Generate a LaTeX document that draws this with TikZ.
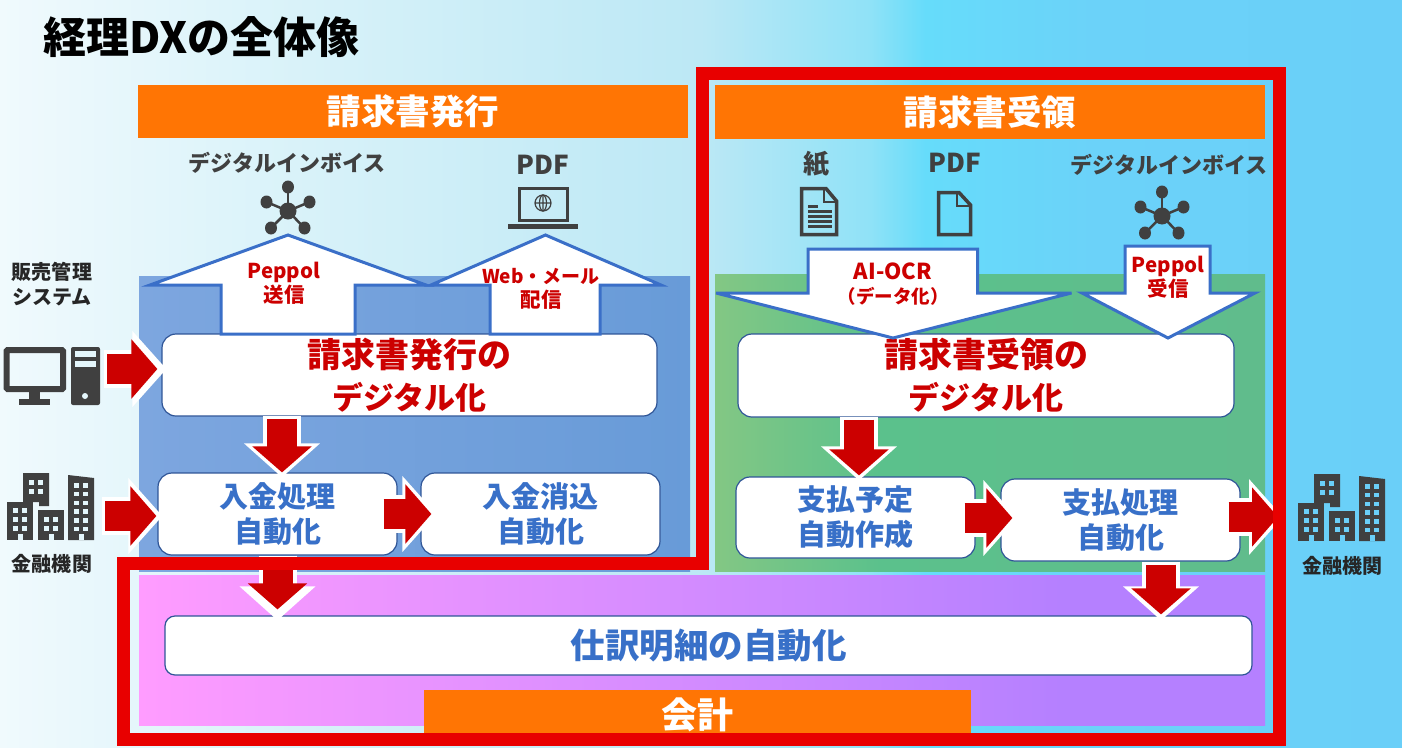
\documentclass[tikz,border=0pt]{standalone}
\usepackage{fontspec}
\usepackage{xcolor}
\setmainfont{Noto Sans CJK JP}
\usetikzlibrary{arrows.meta, calc}
\definecolor{framered}{HTML}{E80000}
\definecolor{arrowred}{HTML}{CC0000}
\definecolor{headorange}{HTML}{FF7504}
\definecolor{boxblue}{HTML}{2F5597}
\definecolor{textblue}{HTML}{3870C8}
\definecolor{linkblue}{HTML}{3A6FC8}
\definecolor{icongray}{HTML}{404040}
\definecolor{bga}{HTML}{F0FAFD}
\definecolor{bgb}{HTML}{DEF4FA}
\definecolor{bgc}{HTML}{BCE8F5}
\definecolor{bgd}{HTML}{90E2F7}
\definecolor{bge}{HTML}{66DCFA}
\definecolor{bgf}{HTML}{6BD2F9}
\definecolor{bgg}{HTML}{6ACFF8}
\definecolor{bluea}{HTML}{7DA6DF}
\definecolor{blueb}{HTML}{689BD8}
\definecolor{greena}{HTML}{83C784}
\definecolor{greenb}{HTML}{5BC18C}
\definecolor{greenc}{HTML}{60BC8C}
\definecolor{pinka}{HTML}{FF9CFF}
\definecolor{pinkb}{HTML}{B580FF}
\definecolor{winleft}{HTML}{E4F6FB}
\pgfdeclarehorizontalshading{pagebg}{100bp}{color(0bp)=(bga); color(25bp)=(bga); color(33bp)=(bgb); color(50bp)=(bgc); color(56bp)=(bgd); color(58bp)=(bge); color(64bp)=(bgf); color(75bp)=(bgg); color(100bp)=(bgg)}
\pgfdeclarehorizontalshading{greenpanel}{100bp}{color(0bp)=(greena); color(25bp)=(greena); color(40bp)=(greenb); color(75bp)=(greenc); color(100bp)=(greenc)}
\pgfdeclarehorizontalshading{pinkpanel}{100bp}{color(0bp)=(pinka); color(25bp)=(pinka); color(66bp)=(pinkb); color(100bp)=(pinkb)}
\newcommand{\fs}[1]{\fontsize{#1}{#1}\selectfont}

\begin{document}
\begin{tikzpicture}[x=1pt, y=-1pt, font=\bfseries,
    headbox/.style={fill=headorange, text=white, inner sep=0pt, font=\bfseries\fontsize{34.5}{40}\selectfont},
    wbox/.style={draw=boxblue, line width=1.2pt, fill=white, rounded corners=14pt, inner sep=0pt, align=center},
    redtext/.style={text=arrowred, font=\bfseries\fontsize{34}{42}\selectfont},
    bluetext/.style={text=textblue, font=\bfseries\fontsize{29}{35}\selectfont},
    hollow/.style={draw=linkblue, line width=3pt, fill=white, miter limit=8},
    incap/.style={text=arrowred, align=center, inner sep=0pt, font=\bfseries\fontsize{20.5}{24}\selectfont},
    iconcap/.style={text=icongray, inner sep=0pt, font=\bfseries\fontsize{22}{28}\selectfont},
    sidecap/.style={text=black!85, align=center, inner sep=0pt, font=\bfseries\fontsize{20}{25}\selectfont},
    blockarrow/.style={draw=arrowred, line width=30pt,
      -{Triangle[length=26pt, width=58pt]},
      preaction={draw=white, line width=38pt, -{Triangle[length=34pt, width=74pt]},
        shorten >=-5pt, shorten <=-3pt}},
    hubicon/.pic={
      \foreach \hx/\hy in {0/-24, -21.5/-9, 21.5/-9, -17/17, 16.5/17} {
        \draw[icongray, line width=2.5pt] (0,0) -- (\hx,\hy);
        \fill[icongray] (\hx,\hy) ellipse (6pt and 6.5pt);
      }
      \fill[icongray] (0,0) circle (8.5pt);
    },
    bankicon/.pic={
      \fill[icongray] (16,0) -- (42,0) -- (42,33) -- (32,33) -- (32,29) -- (16,29) -- cycle;
      \fill[icongray] (0,29) rectangle (26,67);
      \fill[icongray] (31,37) rectangle (57,67);
      \fill[icongray] (61,2) -- (87,5) -- (87,67) -- (61,67) -- cycle;
      \foreach \wx in {22,31} \foreach \wy in {7,16} {\fill[#1] (\wx,\wy) rectangle +(4.5,4.5);}
      \foreach \wx in {6,15} \foreach \wy in {35,44,53} {\fill[#1] (\wx,\wy) rectangle +(4.5,4.5);}
      \foreach \wx in {37,46} \foreach \wy in {44,53} {\fill[#1] (\wx,\wy) rectangle +(4.5,4.5);}
      \foreach \wx in {67,76} \foreach \wy in {10,18.7,27.5,36,45,53.5} {\fill[#1] (\wx,\wy) rectangle +(4.5,4.5);}
      \foreach \wx in {10.5,41.5,71.5} {\fill[#1] (\wx,61) rectangle +(5,6);}
    },
  ]
    \useasboundingbox (0,0) rectangle (1402,747);
    \shade[shading=pagebg] (0,0) rectangle (1402,747);

    % panels
    \shade[left color=bluea, right color=blueb] (139,276) rectangle (690,571);
    \shade[shading=greenpanel] (715,274) rectangle (1265,571);
    \shade[shading=pinkpanel] (139,575) rectangle (1265,725);

    \node[headbox, minimum width=550pt, minimum height=53pt] (issuehead) at (413,111.5) {請求書発行};
    \node[headbox, minimum width=550pt, minimum height=54pt] (recvhead) at (990,112) {請求書受領};

    \node[anchor=west, inner sep=0pt, font=\bfseries\fontsize{43}{46}\selectfont] (title) at (43,37) {経理DXの全体像};

    % icons and captions
    \node[iconcap] (invoiceL) at (287,163) {デジタルインボイス};
    \node[iconcap, font=\bfseries\fs{26}] (pdfL) at (543,165) {PDF};
    \node[iconcap, font=\bfseries\fs{26}] (paperR) at (816,164) {紙};
    \node[iconcap, font=\bfseries\fs{26}] (pdfR) at (955,163) {PDF};
    \node[iconcap] (invoiceR) at (1169,165) {デジタルインボイス};
    \pic at (288,211) {hubicon};
    \pic at (1162,216) {hubicon};

    \draw[icongray, line width=3.5pt] (519.5,188.5) rectangle (567.5,220.5);
    \fill[icongray] (508,224) rectangle (578,229);
    \draw[icongray, line width=1.2pt] (543,203) circle (8pt) (535,203) -- (551,203) (543,195) -- (543,211);
    \draw[icongray, line width=1.2pt] (543,203) ellipse (3.5pt and 8pt);

    \draw[icongray, line width=3.5pt] (801.5,188.5) -- (826,188.5) -- (836.5,201) -- (836.5,234.5) -- (801.5,234.5) -- cycle;
    \draw[icongray, line width=2.5pt] (824,189) -- (824,202) -- (836,202);
    \foreach \ly/\lx in {206/818, 211/832, 216/832, 221/832, 226/832} {
      \draw[icongray, line width=3pt] (808,\ly) -- (\lx,\ly);
    }
    \draw[icongray, line width=3.5pt] (938.5,192.5) -- (959,192.5) -- (970.5,205) -- (970.5,234.5) -- (938.5,234.5) -- cycle;
    \draw[icongray, line width=2.5pt] (957,193) -- (957,206) -- (970,206);

    \draw[icongray, line width=6pt, rounded corners=1pt] (6.5,350) rectangle (63,389);
    \fill[icongray] (29,391) rectangle (40,400);
    \fill[icongray] (19,399) rectangle (50,405);
    \fill[icongray, rounded corners=2pt] (71,347) rectangle (100,405);
    \fill[winleft] (75,351) rectangle (96,357);
    \fill[winleft] (75,361) rectangle (96,367);
    \fill[winleft] (85,396) circle (3pt);

    \pic at (7,473) {bankicon=winleft};
    \pic at (1298,474) {bankicon=bgg};

    \node[sidecap] (salescap) at (52,284) {販売管理\\システム};
    \node[sidecap] (bankLcap) at (52,564) {金融機関};
    \node[sidecap] (bankRcap) at (1342,566) {金融機関};

    % boxes
    \node[wbox, redtext, minimum width=495pt, minimum height=82pt] (issue) at (409.5,375) {請求書発行の\\{\fontsize{31}{42}\selectfont デジタル化}};
    \node[wbox, redtext, minimum width=496pt, minimum height=83pt] (recv) at (986,375.5) {請求書受領の\\{\fontsize{31}{42}\selectfont デジタル化}};
    \node[wbox, bluetext, minimum width=239pt, minimum height=82pt] (nyukin) at (277.5,514) {入金処理\\自動化};
    \node[wbox, bluetext, minimum width=239pt, minimum height=82pt] (keshikomi) at (540.5,514) {入金消込\\自動化};
    \node[wbox, bluetext, minimum width=239pt, minimum height=81pt] (yotei) at (855.5,517.5) {支払予定\\自動作成};
    \node[wbox, bluetext, minimum width=239pt, minimum height=82pt] (shiharai) at (1120.5,520) {支払処理\\自動化};
    \node[wbox, text=textblue, font=\bfseries\fontsize{34.5}{38}\selectfont, rounded corners=10pt, minimum width=1087pt, minimum height=59pt] (shiwake) at (708.5,645.5) {仕訳明細の自動化};

    % hollow arrows
    \draw[hollow] (288,235) -- (426,285) -- (355,285) -- (355,334) -- (221,334) -- (221,285) -- (150,285) -- cycle;
    \draw[hollow] (545.5,235) -- (661,285) -- (600,285) -- (600,334) -- (490,334) -- (490,285) -- (431,285) -- cycle;
    \draw[hollow] (808,249) -- (977.5,249) -- (977.5,293) -- (1071.5,293) -- (893,338) -- (716,293) -- (808,293) -- cycle;
    \draw[hollow] (1125,246) -- (1210,246) -- (1210,293) -- (1255,293) -- (1168,338) -- (1082,293) -- (1125,293) -- cycle;
    \node[incap] (sendcap) at (284,283) {Peppol\\送信};
    \node[incap] (webcap) at (541,289) {{\fs{19}Web・メール}\\配信};
    \node[incap] (ocrcap) at (893,284) {{\fs{22}AI-OCR}\\{\fs{18.5}（データ化）}};
    \node[incap] (getcap) at (1168,277) {Peppol\\受信};

    % red arrows
    \coordinate (salespc) at (107,369);
    \coordinate (bankL) at (105,516);
    \coordinate (bankR) at (1278,517);
    \draw[blockarrow, shorten >=4pt] (salespc) -- (salespc -| issue.west);
    \draw[blockarrow, shorten >=1pt] (bankL) -- (bankL -| nyukin.west);
    \draw[blockarrow] ([xshift=4.5pt,yshift=-2pt]nyukin.north |- issue.south) -- ([xshift=4.5pt]nyukin.north);
    \draw[blockarrow] ([xshift=-14pt]nyukin.east) -- ([xshift=11pt]keshikomi.west);
    \draw[blockarrow] ([xshift=3.5pt,yshift=-2pt]yotei.north |- recv.south) -- ([xshift=3.5pt, yshift=1pt]yotei.north);
    \draw[blockarrow] ([xshift=-11pt,yshift=-0.5pt]yotei.east) -- ([xshift=12pt,yshift=2pt]shiharai.west);
    \draw[blockarrow] ([xshift=-12pt,yshift=3pt]shiharai.east) -- (bankR);
    \draw[blockarrow, shorten >=6pt] ([yshift=-3pt]nyukin.south) -- (nyukin.south |- shiwake.north);
    \draw[blockarrow, shorten >=1pt] ([xshift=40.5pt,yshift=-3pt]shiharai.south) -- ([xshift=40.5pt]shiharai.south |- shiwake.north);

    % accounting tab and red frame
    \node[fill=headorange, text=white, inner sep=0pt, minimum width=547pt, minimum height=43pt, font=\bfseries\fontsize{36}{40}\selectfont] (kaikei) at (697.5,711.5) {\raisebox{-17pt}[0pt][0pt]{会計}};
    \draw[framered, line width=13pt] (702.5,73.5) -- (1279.5,73.5) -- (1279.5,739.5) -- (123.5,739.5) -- (123.5,563.5) -- (702.5,563.5) -- cycle;
  \end{tikzpicture}
\end{document}
